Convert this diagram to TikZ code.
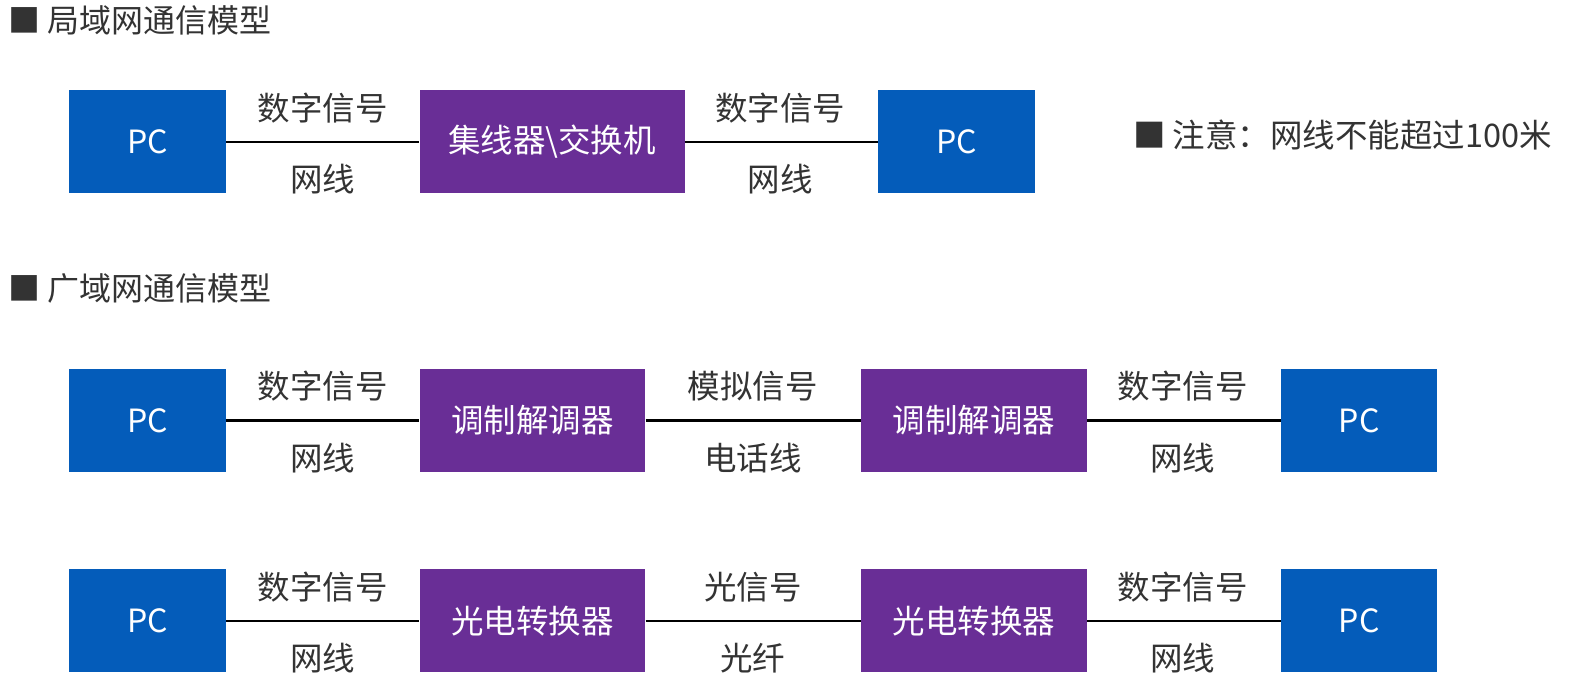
\documentclass[tikz,border=0pt]{standalone}
\usepackage{fontspec}
\setmainfont{Noto Sans CJK SC}
\newfontfamily\cjk{Noto Sans CJK SC}
\definecolor{pcblue}{RGB}{4,92,186}
\definecolor{devpurple}{RGB}{105,46,150}
\definecolor{txtgray}{RGB}{51,51,51}
\begin{document}
\begin{tikzpicture}[x=1pt,y=-1pt,
  pcbox/.style={fill=pcblue,minimum width=156.6pt,minimum height=103pt,inner sep=0pt,text=white,font=\cjk\fontsize{32}{34}\selectfont},
  devbox/.style={fill=devpurple,minimum height=103pt,inner sep=0pt,text=white,font=\cjk\fontsize{32.5}{34}\selectfont},
  lbl/.style={text=txtgray,font=\cjk\fontsize{32.5}{34}\selectfont,inner sep=0pt},
  head/.style={text=txtgray,font=\cjk\fontsize{32}{34}\selectfont,inner sep=0pt,anchor=west},
  wire/.style={line width=2.6pt,black}]
\useasboundingbox (0,0) rectangle (1574,692);
% headings
\node[head] (h1) at (8,20) {■ 局域网通信模型};
\node[head] (h2) at (8,288) {■ 广域网通信模型};
\node[head,font=\cjk\fontsize{32.5}{35}\selectfont] (note) at (1133,135.5) {■ 注意：网线不能超过100米};
% row 1
\node[pcbox] (a1) at (147.6,142) {PC};
\node[devbox,minimum width=265pt] (a2) at (552,142) {集线器\textbackslash 交换机};
\node[pcbox] (a3) at (956.6,142) {PC};
\draw[wire] (a1) -- (a2);
\draw[wire] (a2) -- (a3);
\node[lbl] (a12t) at (322.5,108.4) {数字信号};
\node[lbl] (a12b) at (322.5,178.7) {网线};
\node[lbl] (a23t) at (780,108.4) {数字信号};
\node[lbl] (a23b) at (780,178.7) {网线};
% row 2
\node[pcbox] (b1) at (147.6,420.6) {PC};
\node[devbox,minimum width=225.8pt] (b2) at (532.5,420.6) {调制解调器};
\node[devbox,minimum width=225.8pt] (b3) at (974.2,420.6) {调制解调器};
\node[pcbox] (b4) at (1359.1,420.6) {PC};
\draw[wire] (b1) -- (b2);
\draw[wire] (b2) -- (b3);
\draw[wire] (b3) -- (b4);
\node[lbl] (b12t) at (322.5,386.5) {数字信号};
\node[lbl] (b12b) at (322.5,457.7) {网线};
\node[lbl] (b23t) at (752.9,386.5) {模拟信号};
\node[lbl] (b23b) at (752.9,457.7) {电话线};
\node[lbl] (b34t) at (1182.5,386.5) {数字信号};
\node[lbl] (b34b) at (1182.5,457.7) {网线};
% row 3
\node[pcbox] (c1) at (147.6,620.8) {PC};
\node[devbox,minimum width=225.8pt] (c2) at (532.5,620.8) {光电转换器};
\node[devbox,minimum width=225.8pt] (c3) at (974.2,620.8) {光电转换器};
\node[pcbox] (c4) at (1359.1,620.8) {PC};
\draw[wire] (c1) -- (c2);
\draw[wire] (c2) -- (c3);
\draw[wire] (c3) -- (c4);
\node[lbl] (c12t) at (322.5,587.2) {数字信号};
\node[lbl] (c12b) at (322.5,658.5) {网线};
\node[lbl] (c23t) at (752.9,587.2) {光信号};
\node[lbl] (c23b) at (752.9,658.5) {光纤};
\node[lbl] (c34t) at (1182.5,587.2) {数字信号};
\node[lbl] (c34b) at (1182.5,658.5) {网线};
\end{tikzpicture}
\end{document}
